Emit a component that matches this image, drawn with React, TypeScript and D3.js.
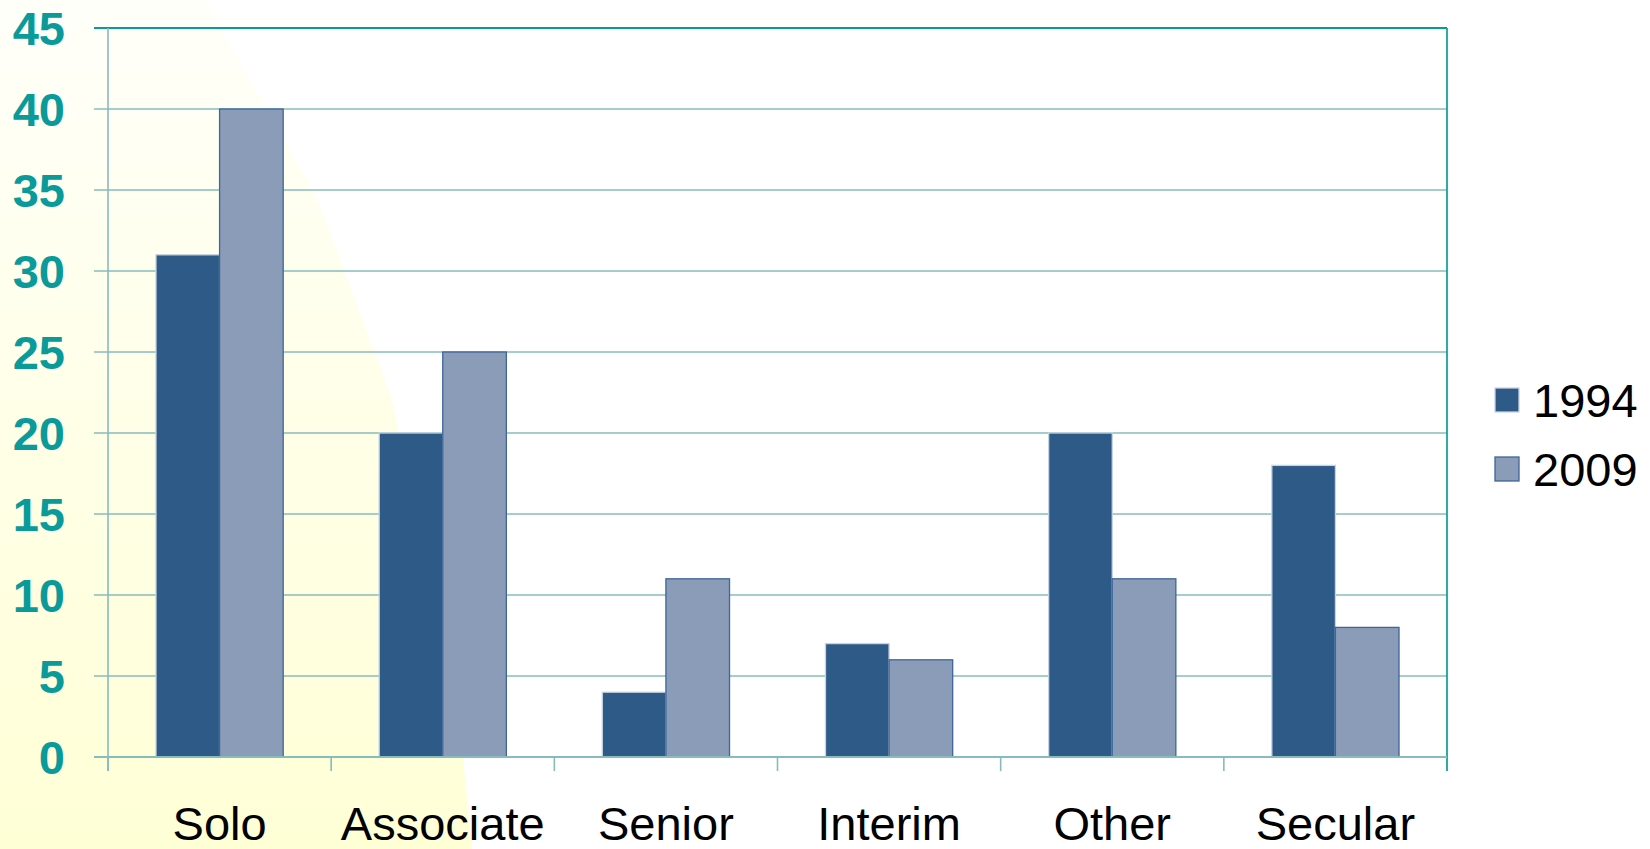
import React from "react";
import * as d3 from "d3";

const categories = ["Solo", "Associate", "Senior", "Interim", "Other", "Secular"];
const series1994 = [31, 20, 4, 7, 20, 18];
const series2009 = [40, 25, 11, 6, 11, 8];
const seriesNames = ["1994", "2009"];
const yTicks = [0, 5, 10, 15, 20, 25, 30, 35, 40, 45];

const W = 1650;
const H = 849;
const M = { left: 108, right: 1447, top: 28, bottom: 757 };

const colors = ["#2e5a88", "#8b9cb8"];
const strokes = ["#c8d3e0", "#3d6699"];

export default function App() {
  const x = d3.scaleBand<string>().domain(categories).range([M.left, M.right]).padding(0);
  const y = d3.scaleLinear().domain([0, 45]).range([M.bottom, M.top]);
  const barW = x.step() * 0.285;
  const series = [series1994, series2009];

  // background glow shape
  const glowPts: [number, number][] = [
    [0, 0],
    [205, 0],
    [318, 200],
    [392, 400],
    [430, 580],
    [463, 758],
    [472, 849],
    [0, 849],
  ];
  const glowPath = d3.line().curve(d3.curveLinear)(glowPts) + "Z";

  const fontStack = "Arial, 'Liberation Sans', Helvetica, sans-serif";

  return (
    <svg width={W} height={H} style={{ position: "absolute", left: 0, top: 0, background: "#ffffff" }}>
      <defs>
        <linearGradient id="glow" x1="0" y1="0" x2="0" y2="1">
          <stop offset="0" stopColor="#fffffa" />
          <stop offset="0.5" stopColor="#ffffe8" />
          <stop offset="1" stopColor="#ffffd6" />
        </linearGradient>
      </defs>
      <rect x={0} y={0} width={W} height={H} fill="#ffffff" />
      <path d={glowPath} fill="url(#glow)" />

      {/* gridlines */}
      {yTicks.map((t) => (
        <line
          key={"g" + t}
          x1={M.left - 14}
          x2={M.right}
          y1={y(t)}
          y2={y(t)}
          stroke={t === 45 ? "#0a9a9a" : "#86bcbc"}
          strokeWidth={t === 45 ? 2 : 1.6}
        />
      ))}

      {/* bars */}
      {categories.map((c, i) => {
        const cx = (x(c) as number) + x.bandwidth() / 2;
        return (
          <g key={c}>
            {series.map((s, j) => (
              <rect
                key={j}
                x={cx - barW + j * barW}
                y={y(s[i])}
                width={barW}
                height={y(0) - y(s[i])}
                fill={colors[j]}
                stroke={strokes[j]}
                strokeWidth={1.3}
              />
            ))}
          </g>
        );
      })}

      {/* left axis */}
      <line x1={M.left} x2={M.left} y1={M.top} y2={M.bottom + 14} stroke="#86bcbc" strokeWidth={1.6} />
      {/* right border */}
      <line x1={M.right} x2={M.right} y1={M.top} y2={M.bottom + 14} stroke="#1aa0a0" strokeWidth={1.8} />
      {/* x axis */}
      <line x1={M.left - 14} x2={M.right} y1={M.bottom} y2={M.bottom} stroke="#86bcbc" strokeWidth={1.8} />
      {categories.map((c) => (
        <line
          key={"t" + c}
          x1={x(c) as number}
          x2={x(c) as number}
          y1={M.bottom}
          y2={M.bottom + 14}
          stroke="#86bcbc"
          strokeWidth={1.6}
        />
      ))}

      {/* y labels */}
      {yTicks.map((t) => (
        <text
          key={"l" + t}
          x={65}
          y={y(t)}
          dy="0.36em"
          textAnchor="end"
          fontFamily={fontStack}
          fontWeight="bold"
          fontSize={47}
          fill="#0a9a9a"
        >
          {t}
        </text>
      ))}

      {/* x labels */}
      {categories.map((c) => (
        <text
          key={"x" + c}
          x={(x(c) as number) + x.bandwidth() / 2}
          y={840}
          textAnchor="middle"
          fontFamily={fontStack}
          fontSize={47}
          fill="#000000"
        >
          {c}
        </text>
      ))}

      {/* legend */}
      {seriesNames.map((n, j) => (
        <g key={n} transform={`translate(1495, ${400 + j * 69})`}>
          <rect x={0} y={-12} width={24} height={24} fill={colors[j]} stroke={strokes[j]} strokeWidth={1.3} />
          <text x={38} y={0} dy="0.36em" fontFamily={fontStack} fontSize={47} fill="#000000">
            {n}
          </text>
        </g>
      ))}
    </svg>
  );
}
